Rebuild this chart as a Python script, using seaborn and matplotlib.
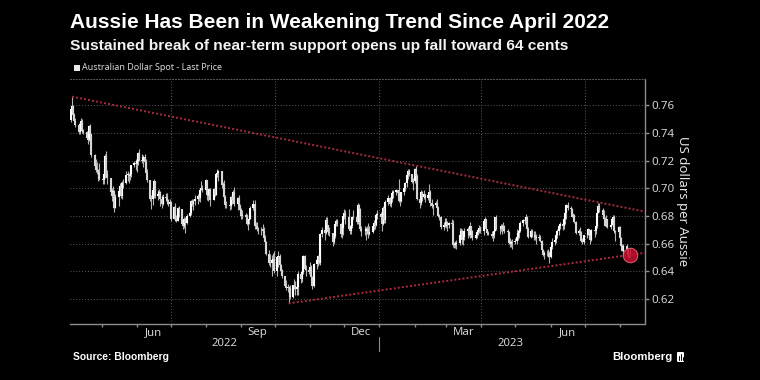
import numpy as np
import pandas as pd
import matplotlib
matplotlib.use("Agg")
import matplotlib.pyplot as plt
import matplotlib.dates as mdates
import matplotlib.transforms as mtransforms
from matplotlib.patches import Rectangle, FancyBboxPatch
from matplotlib.ticker import NullFormatter
import seaborn as sns

# ---------------- data (AUD/USD daily, business days) ----------------
start_date = "2022-04-04"
end_date = "2023-08-10"
first_open = 0.7490

close = [
    # Apr 2022
    0.7575, 0.7590, 0.7525, 0.7485, 0.7455, 0.7405, 0.7460, 0.7485, 0.7415, 0.7405,
    0.7365, 0.7345, 0.7450, 0.7395, 0.7240, 0.7160, 0.7135, 0.7130, 0.7120, 0.7070,
    # May 2022
    0.7060, 0.7100, 0.7235, 0.7100, 0.7075, 0.6975, 0.6945, 0.6980, 0.6860, 0.6935,
    0.6980, 0.7020, 0.6945, 0.7040, 0.7040, 0.7095, 0.7105, 0.7085, 0.7100, 0.7165,
    0.7185, 0.7175,
    # Jun 2022
    0.7195, 0.7255, 0.7205, 0.7200, 0.7225, 0.7190, 0.7110, 0.7060, 0.6925, 0.6920,
    0.6985, 0.7055, 0.6945, 0.6960, 0.6975, 0.6920, 0.6890, 0.6940, 0.6930, 0.6915,
    0.6890, 0.6900,
    # Jul 2022
    0.6780, 0.6865, 0.6775, 0.6765, 0.6860, 0.6850, 0.6745, 0.6730, 0.6775, 0.6750,
    0.6800, 0.6825, 0.6910, 0.6885, 0.6910, 0.6920, 0.6945, 0.6930, 0.6990, 0.7000,
    0.6985,
    # Aug 2022
    0.7060, 0.6950, 0.6945, 0.6995, 0.6915, 0.6995, 0.6955, 0.7105, 0.7110, 0.7125,
    0.7025, 0.7030, 0.6935, 0.6880, 0.6880, 0.6875, 0.6940, 0.6915, 0.6975, 0.6885,
    0.6930, 0.6870, 0.6840,
    # Sep 2022
    0.6800, 0.6810, 0.6790, 0.6740, 0.6770, 0.6775, 0.6855, 0.6885, 0.6725, 0.6725,
    0.6710, 0.6705, 0.6705, 0.6690, 0.6645, 0.6610, 0.6525, 0.6460, 0.6460, 0.6480,
    0.6490, 0.6400,
    # Oct 2022
    0.6505, 0.6515, 0.6445, 0.6400, 0.6370, 0.6295, 0.6280, 0.6285, 0.6280, 0.6215,
    0.6300, 0.6295, 0.6275, 0.6290, 0.6385, 0.6345, 0.6395, 0.6515, 0.6420, 0.6410,
    0.6395,
    # Nov 2022
    0.6435, 0.6360, 0.6295, 0.6455, 0.6480, 0.6510, 0.6460, 0.6670, 0.6700, 0.6675,
    0.6770, 0.6735, 0.6685, 0.6675, 0.6610, 0.6655, 0.6740, 0.6765, 0.6745, 0.6670,
    0.6715, 0.6800,
    # Dec 2022
    0.6825, 0.6795, 0.6705, 0.6690, 0.6725, 0.6790, 0.6795, 0.6755, 0.6880, 0.6850,
    0.6705, 0.6690, 0.6695, 0.6705, 0.6705, 0.6670, 0.6685, 0.6725, 0.6750, 0.6735,
    0.6810, 0.6815,
    # Jan 2023
    0.6795, 0.6740, 0.6855, 0.6770, 0.6900, 0.6930, 0.6890, 0.6920, 0.6965, 0.6975,
    0.6990, 0.6965, 0.6910, 0.6910, 0.6970, 0.7005, 0.7035, 0.7095, 0.7125, 0.7105,
    0.7045, 0.7055,
    # Feb 2023
    0.7140, 0.7090, 0.6920, 0.6895, 0.6970, 0.6940, 0.6960, 0.6930, 0.6955, 0.6970,
    0.6895, 0.6875, 0.6880, 0.6895, 0.6860, 0.6800, 0.6795, 0.6720, 0.6735, 0.6725,
    # Mar 2023
    0.6760, 0.6735, 0.6750, 0.6740, 0.6590, 0.6590, 0.6595, 0.6605, 0.6665, 0.6690,
    0.6625, 0.6650, 0.6690, 0.6705, 0.6665, 0.6725, 0.6690, 0.6640, 0.6665, 0.6685,
    0.6700, 0.6715, 0.6690,
    # Apr 2023
    0.6765, 0.6780, 0.6705, 0.6675, 0.6670, 0.6655, 0.6665, 0.6690, 0.6790, 0.6710,
    0.6710, 0.6730, 0.6705, 0.6730, 0.6690, 0.6685, 0.6605, 0.6600, 0.6615, 0.6610,
    # May 2023
    0.6620, 0.6650, 0.6675, 0.6695, 0.6750, 0.6770, 0.6765, 0.6790, 0.6710, 0.6650,
    0.6695, 0.6665, 0.6665, 0.6645, 0.6650, 0.6645, 0.6620, 0.6555, 0.6520, 0.6530,
    0.6535, 0.6530, 0.6505,
    # Jun 2023
    0.6580, 0.6615, 0.6625, 0.6665, 0.6690, 0.6730, 0.6745, 0.6725, 0.6780, 0.6820,
    0.6880, 0.6860, 0.6850, 0.6795, 0.6805, 0.6760, 0.6680, 0.6690, 0.6680, 0.6620,
    0.6615, 0.6660,
    # Jul 2023
    0.6665, 0.6705, 0.6665, 0.6625, 0.6700, 0.6690, 0.6725, 0.6825, 0.6875, 0.6845,
    0.6810, 0.6775, 0.6730, 0.6780, 0.6720, 0.6735, 0.6780, 0.6790, 0.6690, 0.6685,
    0.6720,
    # Aug 2023
    0.6645, 0.6585, 0.6550, 0.6585, 0.6560, 0.6520, 0.6525, 0.6525,
]

high = [
    0.7580, 0.7661, 0.7600, 0.7545, 0.7505, 0.7470, 0.7480, 0.7505, 0.7500, 0.7430,
    0.7415, 0.7380, 0.7458, 0.7460, 0.7395, 0.7250, 0.7210, 0.7190, 0.7140, 0.7180,
    0.7090, 0.7135, 0.7245, 0.7266, 0.7130, 0.7075, 0.7005, 0.7020, 0.6990, 0.6960,
    0.6995, 0.7035, 0.7045, 0.7055, 0.7070, 0.7125, 0.7125, 0.7110, 0.7110, 0.7170,
    0.7195, 0.7210,
    0.7200, 0.7260, 0.7283, 0.7245, 0.7240, 0.7250, 0.7210, 0.7140, 0.7060, 0.6955,
    0.7000, 0.7070, 0.7055, 0.6985, 0.6995, 0.6980, 0.6950, 0.6960, 0.6965, 0.6965,
    0.6925, 0.6920,
    0.6900, 0.6875, 0.6895, 0.6810, 0.6865, 0.6875, 0.6845, 0.6770, 0.6790, 0.6790,
    0.6815, 0.6870, 0.6915, 0.6925, 0.6920, 0.6955, 0.6960, 0.6965, 0.7000, 0.7050,
    0.7025,
    0.7070, 0.7045, 0.6965, 0.7000, 0.7000, 0.7005, 0.7000, 0.7110, 0.7136, 0.7130,
    0.7125, 0.7045, 0.7060, 0.6950, 0.6905, 0.6895, 0.6945, 0.6955, 0.6985, 0.7010,
    0.6935, 0.6955, 0.6885,
    0.6855, 0.6845, 0.6825, 0.6815, 0.6780, 0.6800, 0.6875, 0.6915, 0.6915, 0.6760,
    0.6760, 0.6720, 0.6720, 0.6740, 0.6720, 0.6665, 0.6620, 0.6555, 0.6525, 0.6520,
    0.6535, 0.6545,
    0.6515, 0.6548, 0.6525, 0.6455, 0.6420, 0.6370, 0.6340, 0.6310, 0.6295, 0.6305,
    0.6305, 0.6345, 0.6330, 0.6330, 0.6400, 0.6395, 0.6410, 0.6520, 0.6522, 0.6450,
    0.6430,
    0.6465, 0.6450, 0.6365, 0.6460, 0.6495, 0.6520, 0.6515, 0.6680, 0.6720, 0.6725,
    0.6795, 0.6790, 0.6735, 0.6720, 0.6665, 0.6670, 0.6755, 0.6780, 0.6775, 0.6750,
    0.6725, 0.6805,
    0.6850, 0.6840, 0.6850, 0.6735, 0.6730, 0.6800, 0.6845, 0.6800, 0.6893, 0.6890,
    0.6855, 0.6725, 0.6730, 0.6720, 0.6725, 0.6750, 0.6725, 0.6730, 0.6770, 0.6765,
    0.6820, 0.6840,
    0.6830, 0.6820, 0.6870, 0.6860, 0.6915, 0.6950, 0.6935, 0.6935, 0.6990, 0.6990,
    0.6995, 0.6990, 0.7065, 0.6940, 0.6975, 0.7025, 0.7045, 0.7105, 0.7140, 0.7140,
    0.7105, 0.7075,
    0.7145, 0.7158, 0.7100, 0.6935, 0.6985, 0.6980, 0.6985, 0.6955, 0.6970, 0.7030,
    0.6985, 0.6925, 0.6890, 0.6910, 0.6920, 0.6870, 0.6815, 0.6800, 0.6755, 0.6785,
    0.6785, 0.6765, 0.6760, 0.6775, 0.6770, 0.6615, 0.6620, 0.6625, 0.6715, 0.6715,
    0.6710, 0.6665, 0.6715, 0.6720, 0.6710, 0.6760, 0.6730, 0.6700, 0.6680, 0.6690,
    0.6715, 0.6735, 0.6730,
    0.6775, 0.6795, 0.6780, 0.6705, 0.6690, 0.6690, 0.6680, 0.6705, 0.6795, 0.6805,
    0.6720, 0.6740, 0.6740, 0.6755, 0.6735, 0.6710, 0.6690, 0.6640, 0.6625, 0.6635,
    0.6640, 0.6710, 0.6700, 0.6720, 0.6765, 0.6780, 0.6790, 0.6818, 0.6800, 0.6720,
    0.6705, 0.6710, 0.6695, 0.6690, 0.6670, 0.6670, 0.6665, 0.6630, 0.6560, 0.6550,
    0.6555, 0.6560, 0.6545,
    0.6590, 0.6640, 0.6650, 0.6670, 0.6710, 0.6735, 0.6755, 0.6750, 0.6790, 0.6830,
    0.6885, 0.6900, 0.6870, 0.6860, 0.6820, 0.6815, 0.6765, 0.6705, 0.6720, 0.6690,
    0.6640, 0.6665,
    0.6690, 0.6715, 0.6710, 0.6685, 0.6705, 0.6710, 0.6740, 0.6830, 0.6895, 0.6895,
    0.6860, 0.6840, 0.6790, 0.6805, 0.6780, 0.6750, 0.6785, 0.6805, 0.6810, 0.6700,
    0.6725,
    0.6725, 0.6650, 0.6595, 0.6600, 0.6600, 0.6565, 0.6535, 0.6570,
]

low = [
    0.7480, 0.7560, 0.7500, 0.7460, 0.7440, 0.7395, 0.7390, 0.7420, 0.7400, 0.7395,
    0.7355, 0.7320, 0.7340, 0.7380, 0.7225, 0.7150, 0.7120, 0.7105, 0.7055, 0.7060,
    0.7030, 0.7030, 0.7075, 0.7090, 0.7030, 0.6955, 0.6910, 0.6940, 0.6829, 0.6855,
    0.6875, 0.6950, 0.6930, 0.6925, 0.7000, 0.7030, 0.7055, 0.7035, 0.7060, 0.7080,
    0.7150, 0.7135,
    0.7120, 0.7165, 0.7195, 0.7180, 0.7150, 0.7175, 0.7100, 0.7045, 0.6910, 0.6850,
    0.6880, 0.6930, 0.6930, 0.6915, 0.6935, 0.6870, 0.6860, 0.6880, 0.6905, 0.6890,
    0.6870, 0.6830,
    0.6765, 0.6780, 0.6765, 0.6760, 0.6770, 0.6790, 0.6735, 0.6710, 0.6715, 0.6681,
    0.6745, 0.6795, 0.6810, 0.6870, 0.6845, 0.6880, 0.6890, 0.6905, 0.6900, 0.6985,
    0.6970,
    0.6975, 0.6915, 0.6905, 0.6940, 0.6870, 0.6915, 0.6945, 0.6955, 0.7080, 0.7050,
    0.7005, 0.6980, 0.6915, 0.6860, 0.6860, 0.6845, 0.6850, 0.6890, 0.6905, 0.6875,
    0.6840, 0.6855, 0.6835,
    0.6775, 0.6780, 0.6770, 0.6735, 0.6700, 0.6745, 0.6780, 0.6840, 0.6710, 0.6705,
    0.6695, 0.6670, 0.6665, 0.6670, 0.6620, 0.6580, 0.6520, 0.6450, 0.6435, 0.6365,
    0.6430, 0.6390,
    0.6365, 0.6430, 0.6420, 0.6385, 0.6355, 0.6285, 0.6265, 0.6250, 0.6170, 0.6200,
    0.6210, 0.6275, 0.6230, 0.6230, 0.6230, 0.6320, 0.6325, 0.6385, 0.6410, 0.6365,
    0.6385,
    0.6380, 0.6340, 0.6275, 0.6290, 0.6420, 0.6440, 0.6455, 0.6445, 0.6650, 0.6630,
    0.6670, 0.6725, 0.6665, 0.6655, 0.6585, 0.6600, 0.6645, 0.6725, 0.6725, 0.6650,
    0.6640, 0.6660,
    0.6775, 0.6740, 0.6700, 0.6670, 0.6670, 0.6715, 0.6780, 0.6740, 0.6745, 0.6820,
    0.6690, 0.6655, 0.6665, 0.6630, 0.6670, 0.6645, 0.6665, 0.6680, 0.6700, 0.6710,
    0.6725, 0.6780,
    0.6780, 0.6690, 0.6735, 0.6750, 0.6750, 0.6880, 0.6870, 0.6865, 0.6900, 0.6930,
    0.6950, 0.6935, 0.6900, 0.6870, 0.6900, 0.6955, 0.6980, 0.7010, 0.7065, 0.7090,
    0.7035, 0.6985,
    0.7040, 0.7070, 0.6915, 0.6855, 0.6880, 0.6910, 0.6925, 0.6900, 0.6915, 0.6925,
    0.6875, 0.6855, 0.6810, 0.6870, 0.6850, 0.6790, 0.6770, 0.6710, 0.6700, 0.6720,
    0.6715, 0.6695, 0.6715, 0.6720, 0.6580, 0.6570, 0.6570, 0.6565, 0.6590, 0.6645,
    0.6600, 0.6590, 0.6630, 0.6640, 0.6655, 0.6645, 0.6680, 0.6625, 0.6635, 0.6645,
    0.6660, 0.6680, 0.6680,
    0.6665, 0.6715, 0.6690, 0.6665, 0.6660, 0.6640, 0.6620, 0.6640, 0.6690, 0.6700,
    0.6670, 0.6690, 0.6670, 0.6690, 0.6680, 0.6665, 0.6600, 0.6575, 0.6575, 0.6565,
    0.6595, 0.6600, 0.6630, 0.6640, 0.6685, 0.6730, 0.6740, 0.6740, 0.6695, 0.6640,
    0.6640, 0.6650, 0.6630, 0.6625, 0.6600, 0.6625, 0.6615, 0.6545, 0.6510, 0.6490,
    0.6515, 0.6505, 0.6458,
    0.6500, 0.6560, 0.6590, 0.6605, 0.6645, 0.6660, 0.6710, 0.6700, 0.6710, 0.6740,
    0.6780, 0.6845, 0.6825, 0.6790, 0.6770, 0.6750, 0.6670, 0.6660, 0.6665, 0.6610,
    0.6600, 0.6595,
    0.6645, 0.6660, 0.6650, 0.6600, 0.6620, 0.6650, 0.6670, 0.6715, 0.6820, 0.6830,
    0.6795, 0.6755, 0.6725, 0.6720, 0.6715, 0.6705, 0.6735, 0.6745, 0.6680, 0.6620,
    0.6670,
    0.6640, 0.6575, 0.6545, 0.6510, 0.6545, 0.6505, 0.6500, 0.6510,
]

# trend lines and marker
upper_dates = ["2022-04-05", "2023-08-23"]
upper_vals = [0.7661, 0.6832]
lower_dates = ["2022-10-13", "2023-08-23"]
lower_vals = [0.6170, 0.6535]
mark_dates = ["2023-08-10"]
mark_vals = [0.6522]

# axes text
y_ticks = [0.62, 0.64, 0.66, 0.68, 0.70, 0.72, 0.74, 0.76]
month_labels = ["Jun", "Sep", "Dec", "Mar", "Jun"]
month_label_dates = ["2022-06-16", "2022-09-15", "2022-12-16", "2023-03-16", "2023-06-16"]
grid_dates = ["2022-07-01", "2022-10-01", "2023-01-01", "2023-04-01", "2023-07-01"]
year_labels = ["2022", "2023"]
year_label_dates = ["2022-08-17", "2023-04-27"]
year_break = "2023-01-01"
x_range = ["2022-04-03 05:00", "2023-08-23 01:00"]
y_range = [0.6025, 0.7788]

title = "Aussie Has Been in Weakening Trend Since April 2022"
subtitle = "Sustained break of near-term support opens up fall toward 64 cents"
legend_label = "Australian Dollar Spot - Last Price"
y_label = "US dollars per Aussie"
source = "Source: Bloomberg"

# ---------------- styling ----------------
sns.set_theme(style="dark", rc={"axes.facecolor": "black", "figure.facecolor": "black",
                                "savefig.facecolor": "black"})
plt.rcParams["font.family"] = ["Noto Sans", "DejaVu Sans"]
BOLD = ["Liberation Sans", "DejaVu Sans"]

W, H = 760, 380
fig = plt.figure(figsize=(W / 100, H / 100), dpi=100, facecolor="black")
ax_l, ax_r, ax_t, ax_b = 70, 644.8, 79, 323.5
ax = fig.add_axes([ax_l / W, 1 - ax_b / H, (ax_r - ax_l) / W, (ax_b - ax_t) / H])
ax.set_facecolor("black")

n = min(len(close), len(high), len(low))
dates = pd.bdate_range(start_date, end_date)[:n]
c = np.array(close[:n])
o = np.concatenate([[first_open], c[:-1]])
hi = np.maximum(np.array(high[:n]), np.maximum(o, c))
lo = np.minimum(np.array(low[:n]), np.minimum(o, c))
df = pd.DataFrame({"date": dates, "open": o, "high": hi, "low": lo, "close": c})
up = df["close"] >= df["open"]

# candles: wicks then bodies
ax.vlines(df["date"], df["low"], df["high"], color="#b4b4b4", lw=0.8, zorder=3)
ax.vlines(df["date"][up], df["open"][up], df["close"][up], color="#ffffff", lw=1.5, zorder=4)
ax.vlines(df["date"][~up], df["close"][~up], df["open"][~up], color="#d6d6d6", lw=1.5, zorder=4)

# trend lines
trend_col = "#ad2a3d"
df_up = pd.DataFrame({"date": pd.to_datetime(upper_dates), "value": upper_vals})
df_lo = pd.DataFrame({"date": pd.to_datetime(lower_dates), "value": lower_vals})
sns.lineplot(data=df_up, x="date", y="value", ax=ax, color=trend_col, lw=1.4,
             linestyle=(0, (1, 1.1)), zorder=5)
sns.lineplot(data=df_lo, x="date", y="value", ax=ax, color=trend_col, lw=1.4,
             linestyle=(0, (1, 1.1)), zorder=5)

# highlight marker
df_mk = pd.DataFrame({"date": pd.to_datetime(mark_dates), "value": mark_vals})
sns.scatterplot(data=df_mk, x="date", y="value", ax=ax, s=110, color="#c8102e",
                alpha=0.85, edgecolor="#f07080", linewidth=0.7, zorder=6)

# limits
ax.set_xlim(pd.Timestamp(x_range[0]), pd.Timestamp(x_range[1]))
ax.set_ylim(*y_range)

# grid
grid_col = "#5c5c5c"
ax.grid(False)
for yv in y_ticks:
    ax.axhline(yv, color=grid_col, lw=0.7, linestyle=(0, (1, 2)), zorder=1)
for d in grid_dates:
    ax.axvline(pd.Timestamp(d), color=grid_col, lw=0.7, linestyle=(0, (1, 2)), zorder=1)

# spines
ax.spines["left"].set_visible(False)
ax.spines["top"].set_visible(True)
ax.spines["top"].set_color(grid_col)
ax.spines["top"].set_linestyle((0, (1, 2)))
ax.spines["top"].set_linewidth(0.7)
for s in ["right", "bottom"]:
    ax.spines[s].set_visible(True)
    ax.spines[s].set_color("#8c8c8c")
    ax.spines[s].set_linewidth(1.0)

# y axis on right
ax.yaxis.tick_right()
ax.set_yticks(y_ticks)
ax.set_yticklabels([f"{v:.2f}" for v in y_ticks])
ax.tick_params(axis="y", which="major", direction="out", length=3, width=1,
               color="#8c8c8c", labelcolor="#d4d4d4", labelsize=8.3, pad=2,
               right=True, left=False)
ax.set_ylabel(y_label, rotation=270, color="#e4e4e4", fontsize=9.5,
              va="center", ha="center")
ax.yaxis.set_label_coords((683 - ax_l) / (ax_r - ax_l), 0.5)
ax.set_xlabel("")

# x axis
ax.xaxis.set_major_locator(mdates.MonthLocator())
ax.xaxis.set_major_formatter(NullFormatter())
ax.set_xticks(mdates.date2num(pd.to_datetime(month_label_dates)), minor=True)
ax.set_xticklabels(month_labels, minor=True)
ax.tick_params(axis="x", which="major", direction="out", length=2.5, width=1,
               color="#8c8c8c", bottom=True)
ax.tick_params(axis="x", which="minor", length=0, pad=2.5, labelsize=8.2,
               labelcolor="#d4d4d4", bottom=True)

blend = mtransforms.blended_transform_factory(ax.transData, ax.transAxes)
yl = lambda ypx: (ax_b - ypx) / (ax_b - ax_t)
for lab, d in zip(year_labels, year_label_dates):
    ax.text(pd.Timestamp(d), yl(343.5), lab, transform=blend, ha="center", va="center",
            fontsize=8.2, color="#d4d4d4")
ax.plot([pd.Timestamp(year_break)] * 2, [yl(336.5), yl(350.5)], transform=blend,
        clip_on=False, color="#8c8c8c", lw=0.8)

# ---------------- figure texts ----------------
renderer = fig.canvas.get_renderer()


def fit_text(x_px, y_px, s, width_px, **kw):
    t = fig.text(x_px / W, 1 - y_px / H, s, fontsize=10, va="center", ha="left", **kw)
    w = t.get_window_extent(renderer=renderer).width
    t.set_fontsize(10 * width_px / w)
    return t


fit_text(70, 22, title, 538, color="white", weight="bold", family=BOLD)
fit_text(70, 46, subtitle, 497, color="#f2f2f2", weight="bold", family=BOLD)
fig.patches.append(Rectangle((74 / W, 1 - 71 / H), 6 / W, 6 / H, transform=fig.transFigure,
                             facecolor="#e8e8e8", edgecolor="none"))
fit_text(82, 67.5, legend_label, 139, color="#d8d8d8")
fit_text(73, 357, source, 95, color="white", weight="bold", family=BOLD)
fit_text(612, 356.5, "Bloomberg", 60, color="white", weight="bold", family=BOLD)
fig.patches.append(FancyBboxPatch((677 / W, 1 - 362 / H), 7 / W, 10 / H,
                                  boxstyle="round,pad=0.0,rounding_size=0.002",
                                  transform=fig.transFigure, facecolor="white",
                                  edgecolor="none"))
for bx, bh in [(679, 4), (680.8, 6), (682.6, 3)]:
    fig.lines.append(plt.Line2D([bx / W, bx / W], [1 - 360 / H, 1 - (360 - bh) / H],
                                transform=fig.transFigure, color="black", lw=0.7))

fig.savefig("out.png", dpi=100, facecolor="black")
